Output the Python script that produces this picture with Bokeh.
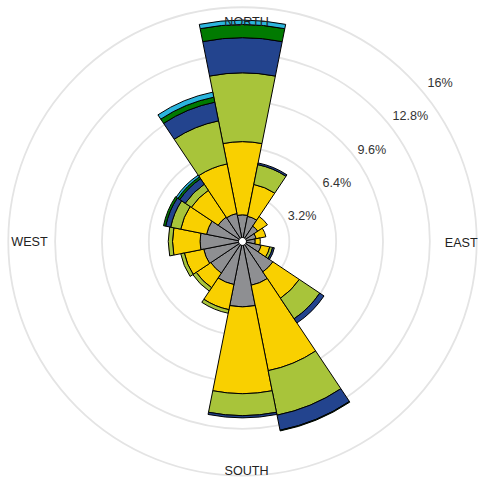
import numpy as np
from bokeh.plotting import figure
from bokeh.models import ColumnDataSource
from bokeh.embed import file_html
from bokeh.resources import INLINE
from bokeh.core.properties import value

# ---- data (percent frequency per direction, per speed class) ----
directions = ["N", "NNE", "NE", "ENE", "E", "ESE", "SE", "SSE",
              "S", "SSW", "SW", "WSW", "W", "WNW", "NW", "NNW"]
compass_deg = [0, 22.5, 45, 67.5, 90, 112.5, 135, 157.5,
               180, 202.5, 225, 247.5, 270, 292.5, 315, 337.5]

class_grey = [1.82, 1.75, 1.26, 0.95, 0.87, 1.30, 2.50, 3.05, 4.47, 3.00, 2.60, 2.70, 2.90, 2.50, 2.00, 1.95]
class_yellow = [5.00, 2.22, 0.79, 0.68, 0.35, 0.60, 2.17, 5.95, 5.93, 1.75, 1.20, 1.35, 1.88, 1.80, 2.20, 3.45]
class_yellowgreen = [4.70, 1.38, 0.0, 0.0, 0.0, 0.20, 1.68, 3.10, 1.50, 0.25, 0.28, 0.25, 0.29, 0.70, 0.50, 3.00]
class_blue = [2.40, 0.12, 0.0, 0.0, 0.0, 0.12, 0.35, 1.05, 0.15, 0.0, 0.0, 0.0, 0.0, 0.35, 0.45, 1.30]
class_green = [0.90, 0.0, 0.0, 0.0, 0.0, 0.0, 0.0, 0.05, 0.0, 0.0, 0.0, 0.0, 0.0, 0.15, 0.15, 0.35]
class_cyan = [0.30, 0.0, 0.0, 0.0, 0.0, 0.0, 0.0, 0.0, 0.0, 0.0, 0.0, 0.0, 0.0, 0.0, 0.15, 0.35]

ring_values = [3.2, 6.4, 9.6, 12.8, 16.0]
ring_labels = ["3.2%", "6.4%", "9.6%", "12.8%", "16%"]
compass_names = ["NORTH", "EAST", "SOUTH", "WEST"]

series = [
    (class_grey, "#8e8f92"),
    (class_yellow, "#f9d000"),
    (class_yellowgreen, "#a8c43a"),
    (class_blue, "#23448e"),
    (class_green, "#017a01"),
    (class_cyan, "#2bb5dd"),
]

HOLE = 0.27
HALF = 11.25

p = figure(width=480, height=480, x_range=(-16.53, 16.26), y_range=(-16.33, 16.46),
           output_backend="svg", toolbar_location=None, min_border=0,
           x_axis_type=None, y_axis_type=None)
p.grid.visible = False
p.outline_line_color = None
p.background_fill_color = "white"
p.border_fill_color = "white"

# rings
p.circle(x=[0] * len(ring_values), y=[0] * len(ring_values), radius=ring_values,
         fill_color=None, line_color="#e4e4e4", line_width=1.8)

comp = np.array(compass_deg)
start = np.deg2rad(90 - comp - HALF)
end = np.deg2rad(90 - comp + HALF)

cum = np.zeros(len(directions))
for i, (vals, color) in enumerate(series):
    v = np.array(vals, dtype=float)
    inner = cum.copy()
    if i == 0:
        inner = inner + HOLE
    outer = cum + v
    mask = v > 0
    src = ColumnDataSource(dict(
        x=np.zeros(mask.sum()), y=np.zeros(mask.sum()),
        inner=inner[mask], outer=outer[mask],
        start=start[mask], end=end[mask]))
    p.annular_wedge(x="x", y="y", inner_radius="inner", outer_radius="outer",
                    start_angle="start", end_angle="end", source=src,
                    fill_color=color, line_color="black", line_width=1)
    cum = outer

# ring labels
rv = np.array(ring_values)
p.text(x=0.70 + 0.746 * rv, y=-0.57 + 0.713 * rv, text=ring_labels,
       text_font=value("Liberation Sans"), text_font_size="12.6px",
       text_color="#333333", text_align="left", text_baseline="middle")

# compass labels
p.text(x=[0.28, 14.94, 0.28, -14.55], y=[15.0, -0.13, -15.67, -0.07], text=compass_names,
       text_font=value("Liberation Sans"), text_font_size="12.6px",
       text_color="#222222", text_align="center", text_baseline="middle")

open("out.html", "w").write(file_html(p, INLINE))
